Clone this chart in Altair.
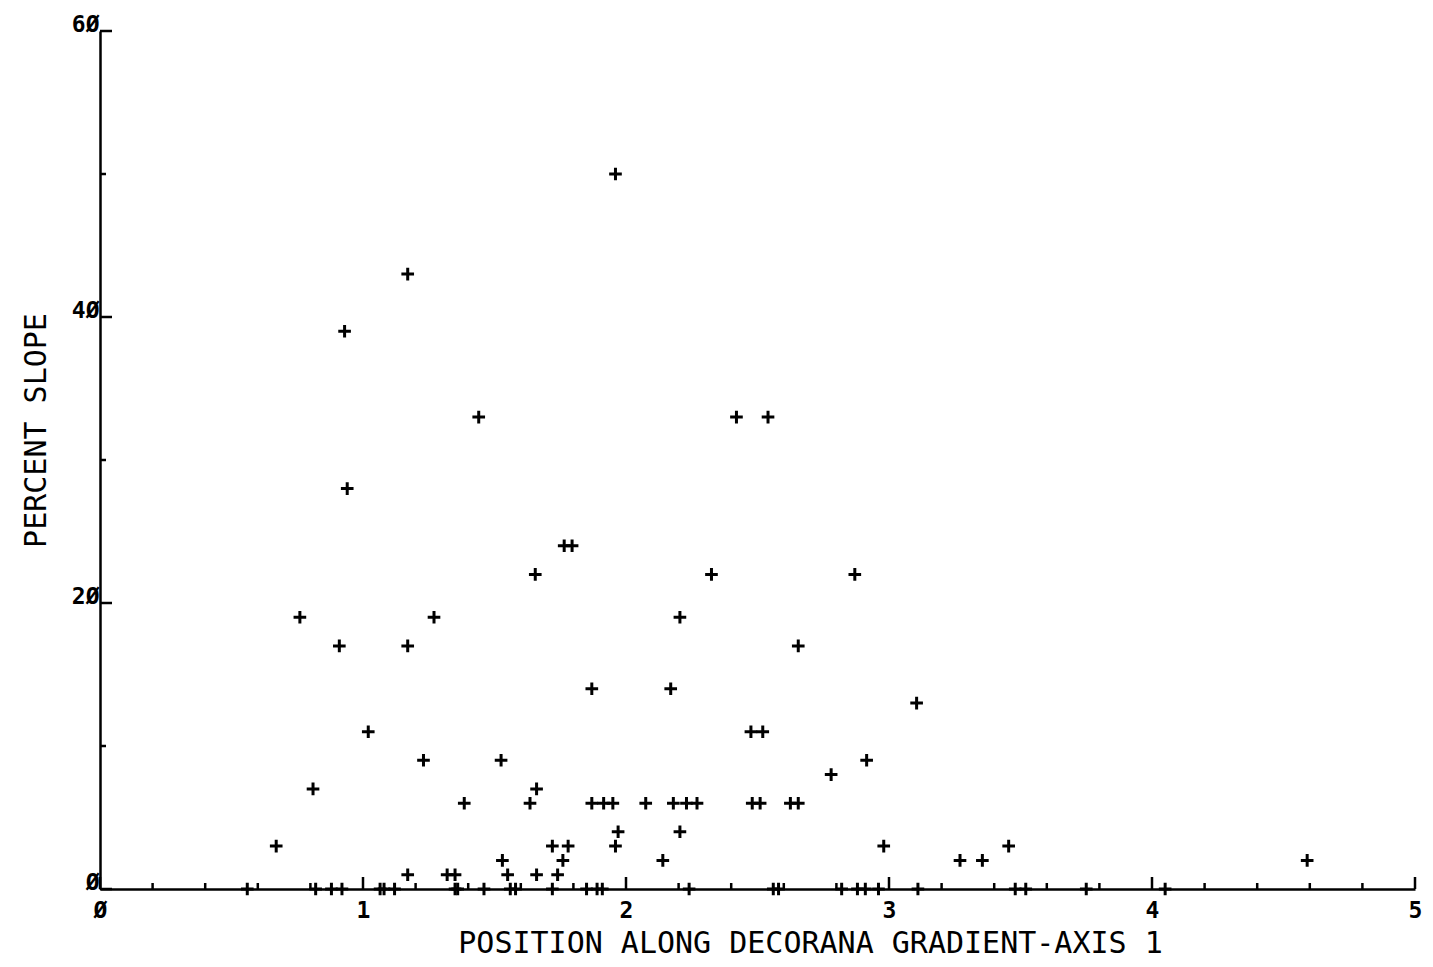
import altair as alt
import pandas as pd

# Data points (x = position along DECORANA axis 1, y = percent slope)
x_vals = [1.96, 1.17, 0.93, 1.44, 2.42, 2.54, 0.94, 1.765, 1.795, 1.655, 2.325, 2.87,
          0.76, 1.27, 2.205, 0.91, 1.17, 2.655, 1.87, 2.17, 3.105, 1.02, 2.475, 2.52,
          1.23, 1.525, 2.915, 2.78, 0.81, 1.66, 1.385, 1.635, 1.87, 1.915, 1.95, 2.075,
          2.18, 2.23, 2.27, 2.48, 2.51, 2.625, 2.655, 1.97, 2.205, 0.67, 1.72, 1.78,
          1.96, 2.98, 3.455, 1.53, 1.76, 2.14, 3.27, 3.355, 4.59, 1.17, 1.32, 1.35,
          1.55, 1.66, 1.74,
          0.56, 0.82, 0.88, 0.92, 1.065, 1.08, 1.12, 1.35, 1.36, 1.46, 1.56, 1.58,
          1.72, 1.85, 1.89, 1.91, 2.24, 2.56, 2.58, 2.82, 2.88, 2.91, 2.96, 3.11,
          3.48, 3.52, 3.75, 4.05]
y_vals = [50, 43, 39, 33, 33, 33, 28, 24, 24, 22, 22, 22,
          19, 19, 19, 17, 17, 17, 14, 14, 13, 11, 11, 11,
          9, 9, 9, 8, 7, 7, 6, 6, 6, 6, 6, 6,
          6, 6, 6, 6, 6, 6, 6, 4, 4, 3, 3, 3,
          3, 3, 3, 2, 2, 2, 2, 2, 2, 1, 1, 1,
          1, 1, 1,
          0, 0, 0, 0, 0, 0, 0, 0, 0, 0, 0, 0,
          0, 0, 0, 0, 0, 0, 0, 0, 0, 0, 0, 0,
          0, 0, 0, 0]

x_major = [0, 1, 2, 3, 4, 5]
x_minor = [0.2, 0.4, 0.6, 0.8, 1.2, 1.4, 1.6, 1.8, 2.2, 2.4, 2.6, 2.8,
           3.2, 3.4, 3.6, 3.8, 4.2, 4.4, 4.6, 4.8]
y_major = [0, 20, 40, 60]
y_minor = [10, 30, 50]

x_title = "POSITION ALONG DECORANA GRADIENT-AXIS 1"
y_title = "PERCENT SLOPE"

W, H = 1315, 858
FONT = "DejaVu Sans Mono"
zero_expr = "replace(datum.label, regexp('0', 'g'), 'Ø')"

df = pd.DataFrame({"x": x_vals, "y": y_vals})
xs = alt.Scale(domain=[0, 5], nice=False, zero=False)
ys = alt.Scale(domain=[0, 60], nice=False, zero=False)

x_axis = alt.Axis(
    values=x_major, title=x_title, ticks=False, grid=False,
    domainColor="black", domainWidth=2.5,
    labelFont=FONT, labelFontSize=23, labelFontWeight="bold", labelColor="black",
    labelBaseline="top", labelAlign="center", labelPadding=10, labelExpr=zero_expr,
    titleFont=FONT, titleFontSize=30, titleFontWeight="normal", titleColor="black",
    titleX=710, titleY=63, titleAlign="center", titleBaseline="alphabetic")
y_axis = alt.Axis(
    values=y_major, title=y_title, ticks=False, grid=False,
    domainColor="black", domainWidth=2.5,
    labelFont=FONT, labelFontSize=23, labelFontWeight="bold", labelColor="black",
    labelBaseline="alphabetic", labelAlign="right", labelPadding=1, labelExpr=zero_expr,
    titleFont=FONT, titleFontSize=30, titleFontWeight="normal", titleColor="black",
    titleX=-55, titleY=399, titleAngle=270, titleAlign="center",
    titleBaseline="alphabetic")

points = alt.Chart(df).mark_point(
    shape="M-1,0H1M0,-1V1", filled=False, stroke="black",
    strokeWidth=3, size=160, opacity=1
).encode(
    x=alt.X("x:Q", scale=xs, axis=x_axis),
    y=alt.Y("y:Q", scale=ys, axis=y_axis),
)

xmaj = alt.Chart(pd.DataFrame({"x": x_major})).mark_rule(color="black", strokeWidth=2.5).encode(
    x=alt.X("x:Q", scale=xs, axis=x_axis), y=alt.value(H), y2=alt.value(H - 12))
xmin = alt.Chart(pd.DataFrame({"x": x_minor})).mark_rule(color="black", strokeWidth=2.5).encode(
    x=alt.X("x:Q", scale=xs, axis=x_axis), y=alt.value(H), y2=alt.value(H - 6))
ymaj = alt.Chart(pd.DataFrame({"y": y_major})).mark_rule(color="black", strokeWidth=2.5).encode(
    y=alt.Y("y:Q", scale=ys, axis=y_axis), x=alt.value(0), x2=alt.value(12))
ymin = alt.Chart(pd.DataFrame({"y": y_minor})).mark_rule(color="black", strokeWidth=2.5).encode(
    y=alt.Y("y:Q", scale=ys, axis=y_axis), x=alt.value(0), x2=alt.value(6))

chart = alt.layer(points, xmaj, xmin, ymaj, ymin).properties(
    width=W, height=H,
    autosize=alt.AutoSizeParams(type="none"),
    padding={"left": 92, "top": 23, "right": 10, "bottom": 70},
    background="white",
).configure_view(stroke=None)

chart.save("out.html", embed_options={"renderer": "svg", "actions": False})
